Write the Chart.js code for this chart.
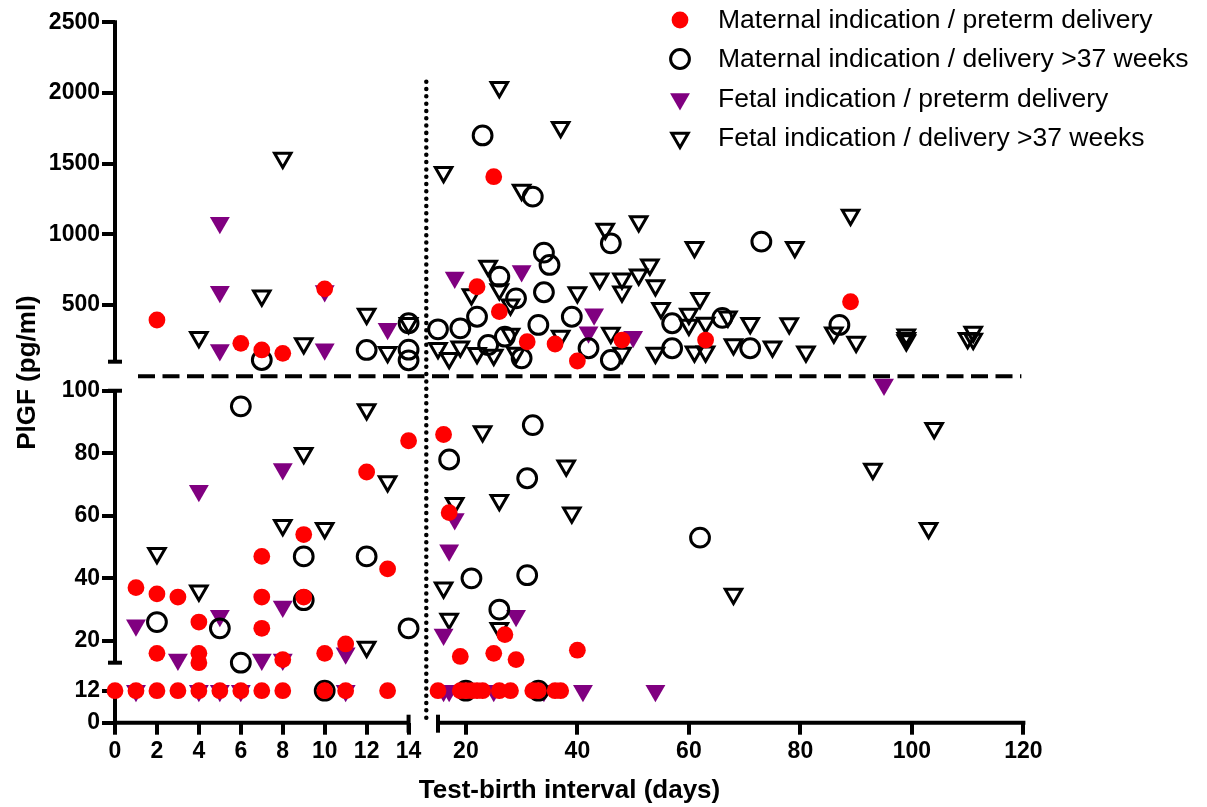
<!DOCTYPE html>
<html>
<head>
<meta charset="utf-8">
<script src="https://cdn.jsdelivr.net/npm/chart.js@4.4.1/dist/chart.umd.min.js"></script>
<style>
  html, body { margin: 0; padding: 0; background: #fff; }
</style>
</head>
<body>
<canvas id="plgfChart" width="1207" height="807"></canvas>
<script>
const seriesNames = [
  'Maternal indication / preterm delivery',
  'Maternal indication / delivery >37 weeks',
  'Fetal indication / preterm delivery',
  'Fetal indication / delivery >37 weeks'
];
const xTicks = [0, 2, 4, 6, 8, 10, 12, 14, 20, 40, 60, 80, 100, 120];
const yTicks = [0, 12, 20, 40, 60, 80, 100, 500, 1000, 1500, 2000, 2500];

// [days, PlGF]
const maternalPreterm = [
  [0,12],[1,12],[2,12],[3,12],[4,12],[5,12],[6,12],[7,12],[8,12],[10,12],[11,12],[13,12],
  [15,12],[19,12],[20,12],[21,12],[22,12],[23,12],[26,12],[28,12],[32,12],[33,12],[36,12],[37,12],
  [14,84],[12,74],[9,54],[7,47],[13,43],[1,37],[2,35],[3,34],[7,34],[9,34],[4,26],[7,24],
  [2,16],[4,16],[4,13],[8,14],[10,16],[11,19],[16,86],[17,61],[27,22],[19,15],[25,16],[29,14],[40,17],
  [10,615],[2,395],[6,230],[7,183],[8,159],[25,1408],[22,630],[26,454],[31,241],[36,225],
  [40,105],[48,253],[63,253],[89,524]
];
const maternalTerm = [
  [10,12],[20,12],[33,12],
  [6,95],[9,47],[12,47],[9,33],[2,26],[5,24],[14,24],[6,13],[32,89],[17,78],[31,72],[21,40],
  [31,41],[26,30],[62,53],
  [7,112],[12,183],[14,372],[14,185],[14,110],[23,1700],[32,1267],[46,937],[34,871],[35,784],
  [26,701],[29,548],[22,418],[34,591],[39,418],[33,360],[19,336],[15,329],[24,218],[27,277],
  [42,195],[57,372],[57,195],[66,410],[46,112],[30,124],[73,949],[87,360],[71,195]
];
const fetalPreterm = [
  [1,12],[4,12],[5,12],[6,12],[11,12],[16,12],[17,12],[25,12],[34,12],[41,12],[54,12],
  [8,75],[4,68],[8,31],[1,25],[5,28],[3,14],[7,14],[8,14],[11,16],[18,59],[17,49],[29,28],
  [16,22],[95,102],
  [5,1082],[5,594],[10,600],[13,333],[5,183],[10,188],[18,695],[30,742],[43,435],[42,309],[50,277]
];
const fetalTerm = [
  [12,94],[9,80],[13,71],[8,57],[10,56],[2,48],[4,36],[12,18],[23,87],[38,76],[18,64],[26,65],
  [39,61],[16,37],[17,27],[26,24],[104,88],[93,75],[103,56],[68,35],
  [8,1540],[7,567],[12,438],[14,372],[4,273],[9,228],[13,167],[26,2041],[16,1440],[37,1758],
  [30,1314],[45,1039],[51,1091],[61,910],[24,777],[21,575],[26,610],[28,503],[40,589],[44,687],
  [48,687],[48,595],[51,714],[53,785],[54,638],[62,548],[15,195],[17,124],[19,206],[22,159],
  [25,147],[29,161],[37,282],[46,303],[48,161],[54,161],[55,478],[60,438],[60,360],[63,374],
  [61,170],[89,1138],[79,910],[67,418],[71,372],[78,370],[86,305],[90,239],[99,290],[99,265],
  [99,250],[110,265],[111,310],[111,260],[63,170],[68,221],[75,205],[81,171],[28,296]
];

// broken axes: real value -> plotting coordinate
function mapX(v) {
  if (v <= 14.5) return v * 20.97;
  return 323 + (v - 15) * 5.575;
}
function mapY(v) {
  if (v <= 12) return v * 32 / 12;
  if (v <= 102) return 60 + (v - 13) * 3.126;
  return 361 + (v - 100) * 0.14142;
}
const toPoints = arr => arr.map(([x, y]) => ({x: mapX(x), y: mapY(y)}));

const FONT = "'Liberation Sans', Arial, Helvetica, sans-serif";
Chart.defaults.font.family = FONT;
Chart.defaults.color = '#000';

const brokenAxes = {
  id: 'brokenAxes',
  beforeDatasetsDraw(chart) {
    const {ctx, scales: {x, y}} = chart;
    const X = v => x.getPixelForValue(mapX(v));
    const Y = v => y.getPixelForValue(mapY(v));
    const line = (x1, y1, x2, y2) => { ctx.beginPath(); ctx.moveTo(x1, y1); ctx.lineTo(x2, y2); ctx.stroke(); };
    const x0 = X(0), y0 = Y(0);
    const topStart = y.getPixelForValue(361);
    const x2Start = x.getPixelForValue(323);
    ctx.save();
    ctx.strokeStyle = '#000';
    ctx.lineWidth = 4;
    // y axis
    line(x0, y0 + 2, x0, Y(12));
    line(x0, Y(13), x0, Y(100));
    line(x0, topStart, x0, Y(2500) - 2);
    line(x0 - 7, Y(13), x0 + 7, Y(13));
    line(x0 - 7, Y(100), x0 + 7, Y(100));
    line(x0 - 7, topStart, x0 + 7, topStart);
    // x axis
    line(x0 - 2, y0, X(14), y0);
    line(x2Start, y0, X(120) + 2, y0);
    line(X(14), y0 - 8, X(14), y0 + 10);
    line(x2Start, y0 - 8, x2Start, y0 + 10);
    // dashed separator
    ctx.setLineDash([17, 7.5]);
    const yd = y.getPixelForValue(346.5);
    line(138, yd, X(120) - 2, yd);
    // dotted separator
    ctx.lineWidth = 4.5;
    ctx.lineCap = 'round';
    ctx.setLineDash([0.01, 7.3]);
    const xd = x.getPixelForValue(311.3);
    line(xd, y.getPixelForValue(641), xd, y0 + 2);
    ctx.restore();
  },
  afterDraw(chart) {
    const {ctx} = chart;
    const rows = [20, 59, 99, 138];
    ctx.save();
    chart.data.datasets.forEach((ds, i) => {
      ctx.fillStyle = ds.backgroundColor;
      ctx.strokeStyle = ds.borderColor;
      ctx.lineWidth = ds.borderWidth;
      Chart.helpers.drawPoint(ctx, {
        pointStyle: ds.pointStyle, radius: ds.pointRadius,
        rotation: ds.pointRotation, borderWidth: ds.borderWidth
      }, 680, rows[i]);
      ctx.fillStyle = '#000';
      ctx.font = '26.5px ' + FONT;
      ctx.textBaseline = 'middle';
      ctx.fillText(ds.label, 718, rows[i] + 1);
    });
    ctx.restore();
  }
};

new Chart(document.getElementById('plgfChart'), {
  type: 'scatter',
  data: {
    datasets: [
      {
        label: seriesNames[0], data: toPoints(maternalPreterm),
        pointStyle: 'circle', pointRadius: 8.4, pointRotation: 0,
        backgroundColor: '#ff0000', borderColor: '#ff0000', borderWidth: 0, clip: false
      },
      {
        label: seriesNames[1], data: toPoints(maternalTerm),
        pointStyle: 'circle', pointRadius: 9.4, pointRotation: 0,
        backgroundColor: 'rgba(0,0,0,0)', borderColor: '#000', borderWidth: 3, clip: false
      },
      {
        label: seriesNames[2], data: toPoints(fetalPreterm),
        pointStyle: 'triangle', pointRadius: 11.5, pointRotation: 180,
        backgroundColor: '#800080', borderColor: '#800080', borderWidth: 0, clip: false
      },
      {
        label: seriesNames[3], data: toPoints(fetalTerm),
        pointStyle: 'triangle', pointRadius: 9.5, pointRotation: 180,
        backgroundColor: 'rgba(0,0,0,0)', borderColor: '#000', borderWidth: 3, clip: false
      }
    ]
  },
  options: {
    responsive: false,
    animation: false,
    events: [],
    layout: { padding: { top: 22.3, right: 183, left: 0, bottom: 0 } },
    plugins: {
      legend: { display: false },
      tooltip: { enabled: false }
    },
    scales: {
      x: {
        type: 'linear', min: 0, max: 909,
        afterFit: s => { s.height = 84.3; },
        afterBuildTicks: s => { s.ticks = xTicks.map(v => ({value: mapX(v)})); },
        ticks: {
          autoSkip: false, maxRotation: 0, padding: 3,
          font: { size: 23, weight: 'bold' },
          callback: (v, i) => xTicks[i]
        },
        grid: { drawOnChartArea: false, tickLength: 12, lineWidth: 4, color: '#000' },
        border: { display: false },
        title: {
          display: true, text: 'Test-birth interval (days)',
          font: { size: 26, weight: 'bold' }, padding: { top: 0, bottom: 1 }
        }
      },
      y: {
        type: 'linear', min: 0, max: 700.4,
        afterFit: s => { s.width = 115; },
        afterBuildTicks: s => { s.ticks = yTicks.map(v => ({value: mapY(v)})); },
        ticks: {
          autoSkip: false, padding: 2,
          font: { size: 23, weight: 'bold' },
          callback: (v, i) => yTicks[i]
        },
        grid: { drawOnChartArea: false, tickLength: 13, lineWidth: 4, color: '#000' },
        border: { display: false },
        title: {
          display: true, text: 'PlGF (pg/ml)',
          font: { size: 26, weight: 'bold' }, padding: { top: 12, bottom: 0 }
        }
      }
    }
  },
  plugins: [brokenAxes]
});
</script>
</body>
</html>
